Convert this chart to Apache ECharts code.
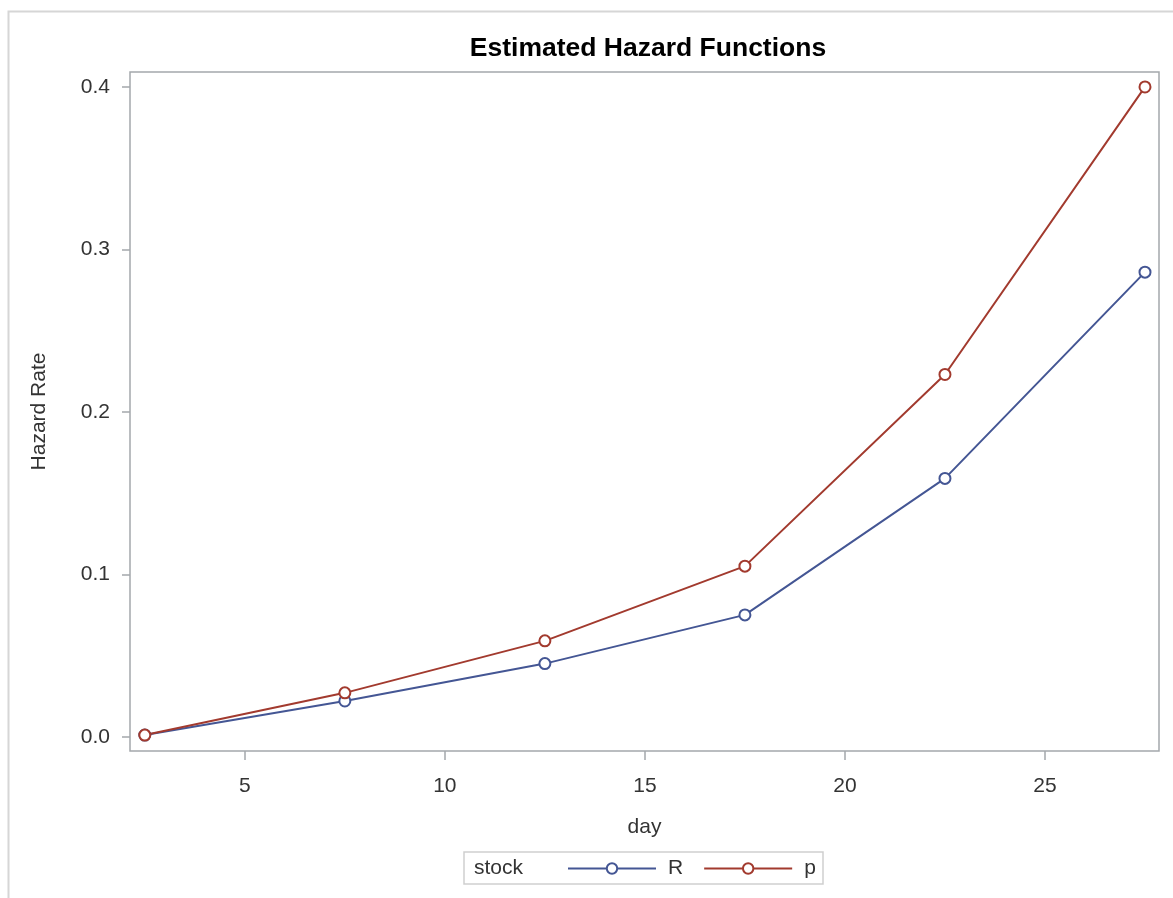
<!DOCTYPE html>
<html>
<head>
<meta charset="utf-8">
<script src="https://cdn.jsdelivr.net/npm/echarts@6/dist/echarts.min.js"></script>
<style>html,body{margin:0;padding:0;background:#fff;}#c{width:1173px;height:898px;}</style>
</head>
<body>
<div id="c"></div>
<script>
var days = [2.5, 7.5, 12.5, 17.5, 22.5, 27.5];
var hazardR = [0.001, 0.022, 0.045, 0.075, 0.159, 0.286];
var hazardP = [0.001, 0.027, 0.059, 0.105, 0.223, 0.400];
var xTicks = [5, 10, 15, 20, 25];
var yTicks = [0.0, 0.1, 0.2, 0.3, 0.4];
var seriesNames = ['R', 'p'];
var legendTitle = 'stock';

var FONT = '"Liberation Sans", Arial, sans-serif';
var chart = echarts.init(document.getElementById('c'), null, {renderer: 'canvas'});
function pairs(xs, ys) { return xs.map(function (x, i) { return [x, ys[i]]; }); }

chart.setOption({
  animation: false,
  backgroundColor: '#ffffff',
  title: {
    text: 'Estimated Hazard Functions',
    left: 643, top: 30, textAlign: 'center',
    textStyle: {fontFamily: FONT, fontSize: 26.5, fontWeight: 'bold', color: '#000'}
  },
  grid: {left: 130, right: 14, top: 72, bottom: 147, show: true, borderColor: '#a4a8ac', borderWidth: 1.5, containLabel: false},
  xAxis: {
    type: 'value', min: 2.13, max: 27.85,
    name: 'day', nameLocation: 'middle', nameGap: 66,
    nameTextStyle: {fontFamily: FONT, fontSize: 21, color: '#333'},
    axisLine: {show: false, onZero: false},
    axisTick: {show: true, customValues: xTicks, length: 9, lineStyle: {color: '#a4a8ac', width: 1.5}},
    axisLabel: {customValues: xTicks, margin: 25, fontFamily: FONT, fontSize: 21, color: '#333'},
    splitLine: {show: false}
  },
  yAxis: {
    type: 'value', min: -0.0088, max: 0.4092,
    name: 'Hazard Rate', nameLocation: 'middle', nameGap: 80,
    nameTextStyle: {fontFamily: FONT, fontSize: 21, color: '#333'},
    axisLine: {show: false, onZero: false},
    axisTick: {show: true, customValues: yTicks, length: 8, lineStyle: {color: '#a4a8ac', width: 1.5}},
    axisLabel: {customValues: yTicks, margin: 20, fontFamily: FONT, fontSize: 21, color: '#333',
      formatter: function (v) { return v.toFixed(1); }},
    splitLine: {show: false}
  },
  legend: {
    left: 567, top: 858, itemWidth: 88, itemHeight: 13, itemGap: 20,
    padding: 0,
    textStyle: {fontFamily: FONT, fontSize: 21, color: '#333', padding: [0, 0, 0, 7]},
    data: seriesNames
  },
  graphic: [
    {type: 'rect', left: 6, top: 9, shape: {x: 0, y: 0, width: 1200, height: 1000}, style: {fill: 'none', stroke: '#d6d6d6', lineWidth: 2}, silent: true},
    {type: 'rect', shape: {x: 464, y: 852, width: 359, height: 32}, style: {fill: 'none', stroke: '#cfcfcf', lineWidth: 1.5}, silent: true},
    {type: 'text', x: 474, y: 868, style: {text: legendTitle, font: '21px ' + FONT, fill: '#333', verticalAlign: 'middle'}, silent: true}
  ],
  series: [
    {name: seriesNames[0], type: 'line', data: pairs(days, hazardR), symbol: 'emptyCircle', symbolSize: 11,
      lineStyle: {color: '#445694', width: 2}, itemStyle: {color: '#445694', borderWidth: 1.8}},
    {name: seriesNames[1], type: 'line', data: pairs(days, hazardP), symbol: 'emptyCircle', symbolSize: 11,
      lineStyle: {color: '#a23a2e', width: 2}, itemStyle: {color: '#a23a2e', borderWidth: 1.8}}
  ]
});
</script>
</body>
</html>
